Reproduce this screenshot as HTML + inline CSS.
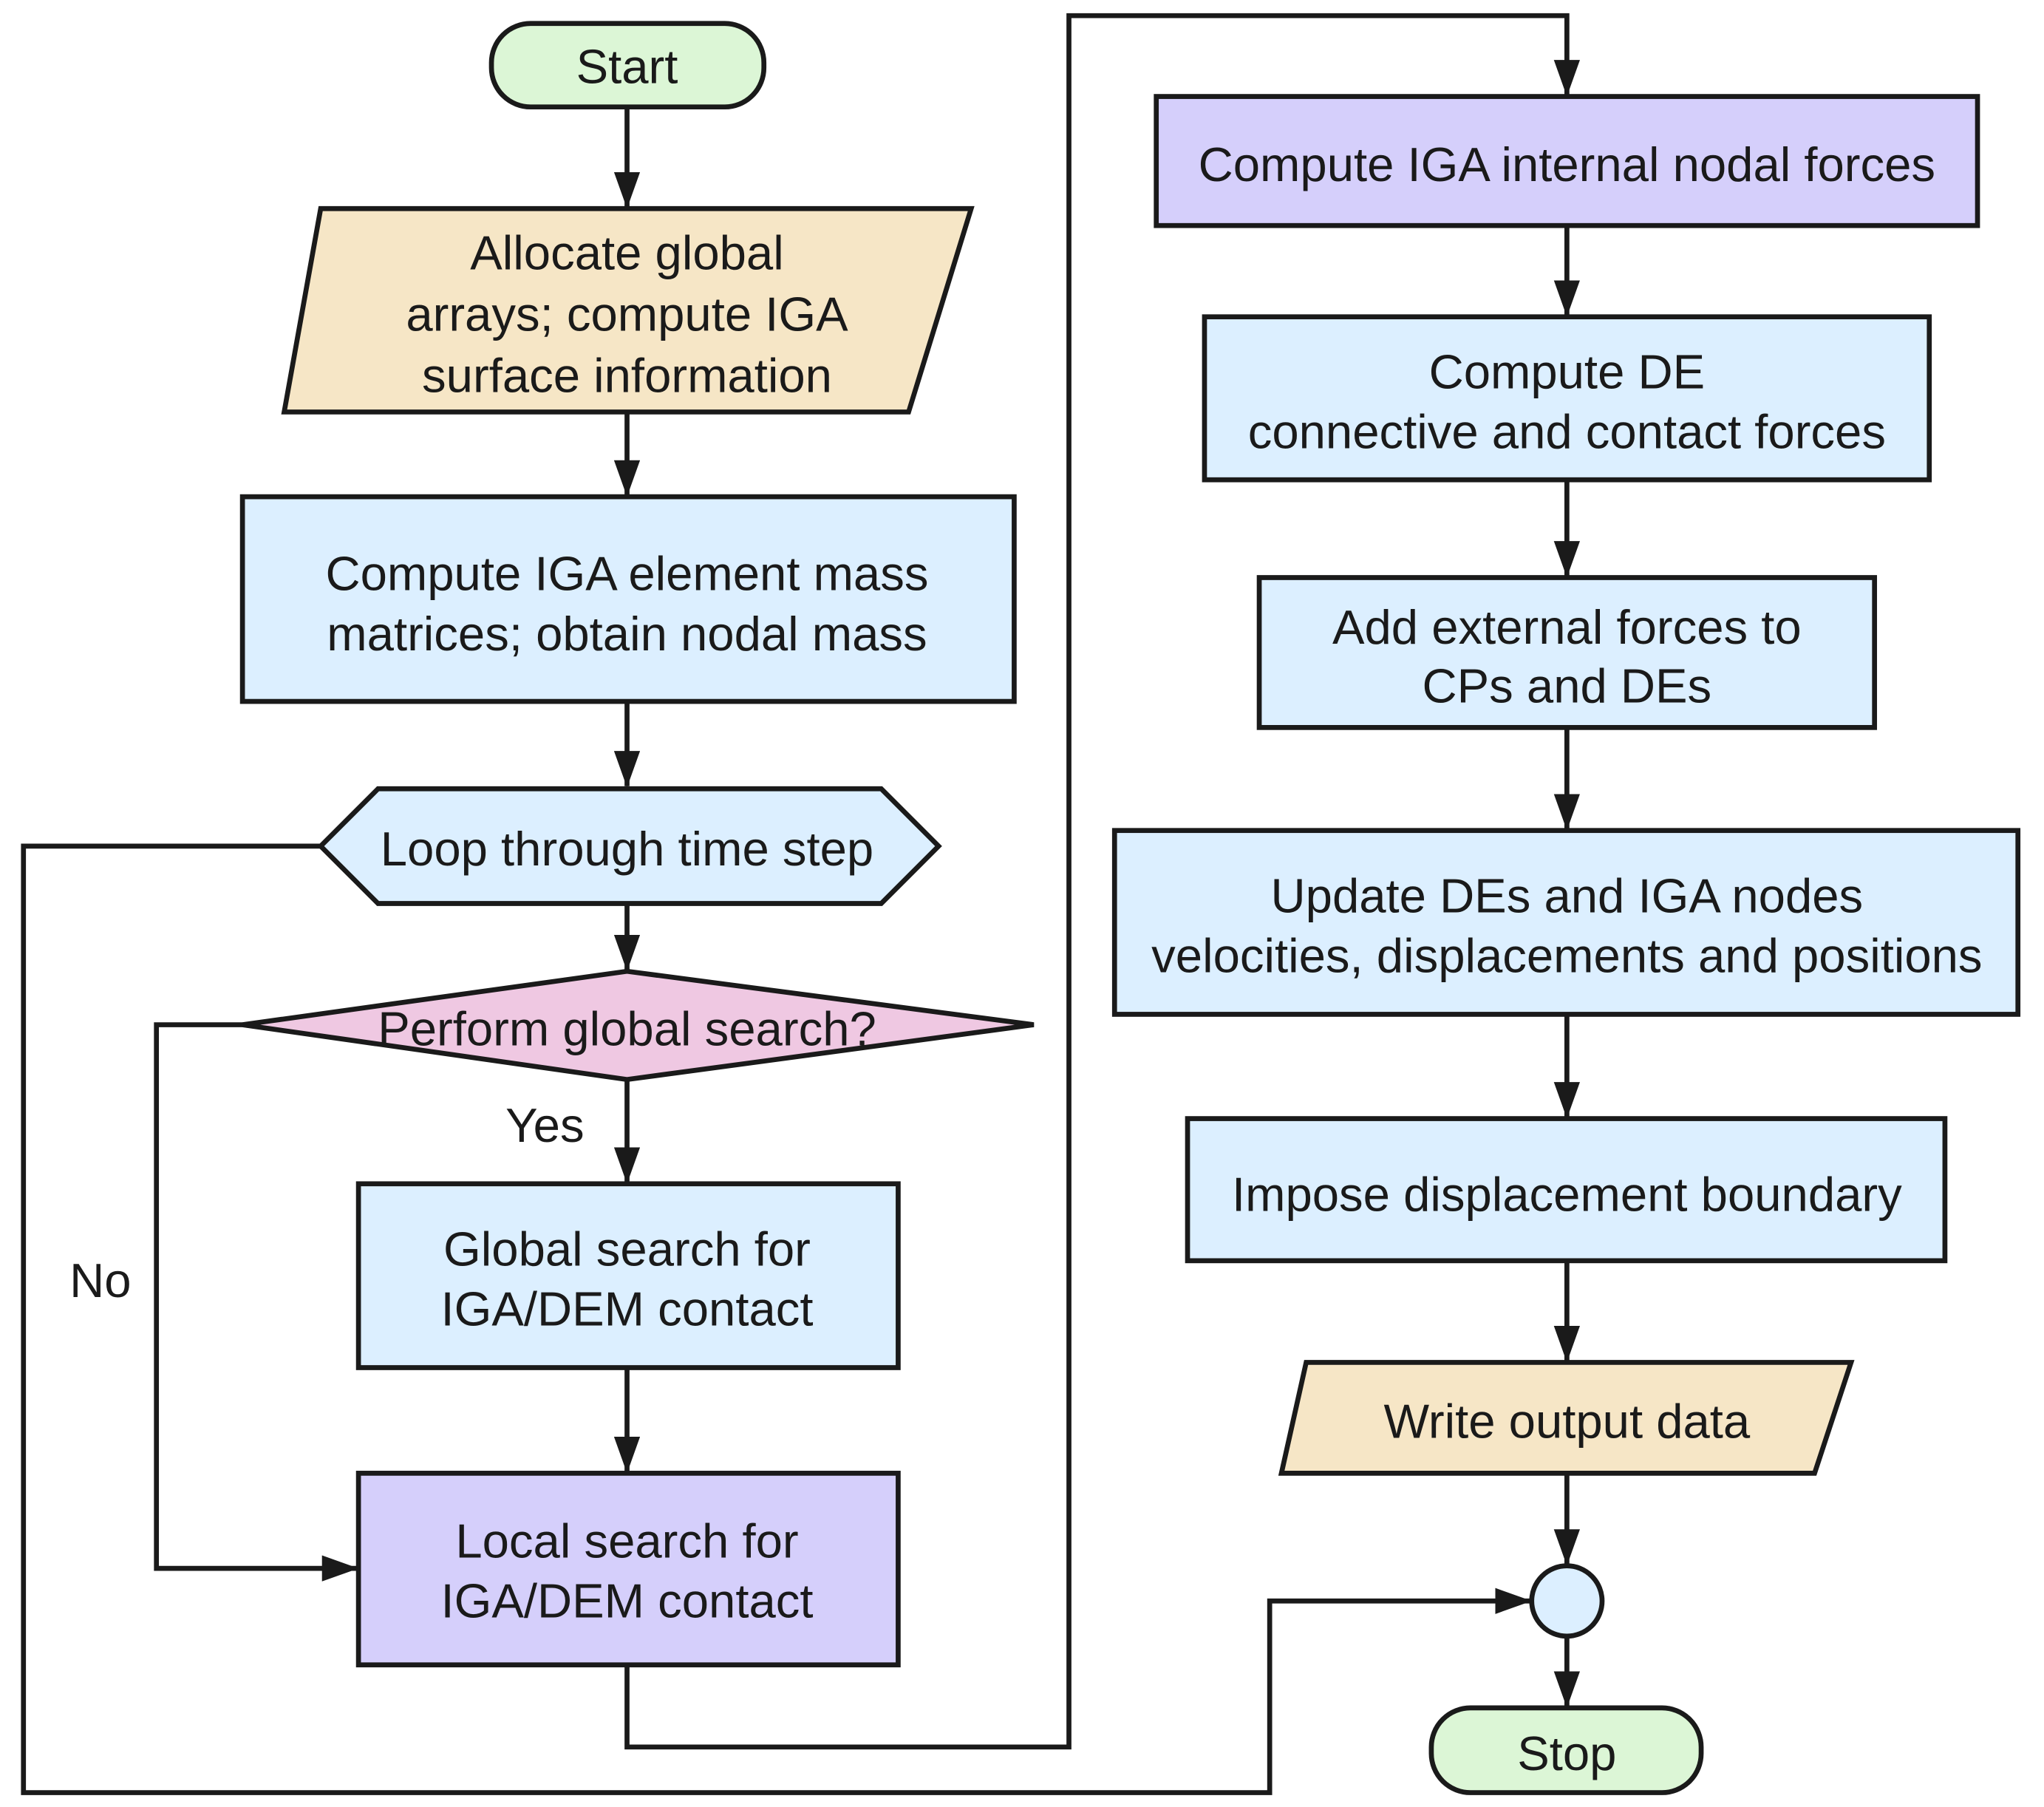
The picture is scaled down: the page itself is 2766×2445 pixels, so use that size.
<!DOCTYPE html>
<html><head><meta charset="utf-8"><style>html,body{margin:0;padding:0;background:#fff}svg{display:block}</style></head>
<body>
<svg width="2766" height="2445" viewBox="0 0 1568 1386" xmlns="http://www.w3.org/2000/svg" font-family="Liberation Sans, sans-serif" font-size="37" fill="#1a1a1a">
<defs><marker id="a" markerWidth="28" markerHeight="20" refX="27" refY="10" orient="auto" markerUnits="userSpaceOnUse" viewBox="0 0 28 20"><path d="M0,0 L28,10 L0,20 Z" fill="#1a1a1a"/></marker></defs>
<g stroke="#1a1a1a" stroke-width="3.8" fill="none">
<line x1="481" y1="82" x2="481" y2="159" marker-end="url(#a)"/>
<line x1="481" y1="316" x2="481" y2="380" marker-end="url(#a)"/>
<line x1="481" y1="538" x2="481" y2="603" marker-end="url(#a)"/>
<line x1="481" y1="693" x2="481" y2="744" marker-end="url(#a)"/>
<line x1="481" y1="828" x2="481" y2="907" marker-end="url(#a)"/>
<line x1="481" y1="1049" x2="481" y2="1129" marker-end="url(#a)"/>
<polyline points="186,786 120,786 120,1203 274,1203" marker-end="url(#a)"/>
<polyline points="246,649 18,649 18,1375 974,1375 974,1228 1174,1228" marker-end="url(#a)"/>
<polyline points="481,1277 481,1340 820,1340 820,12 1202,12 1202,73" marker-end="url(#a)"/>
<line x1="1202" y1="173" x2="1202" y2="242" marker-end="url(#a)"/>
<line x1="1202" y1="368" x2="1202" y2="442" marker-end="url(#a)"/>
<line x1="1202" y1="558" x2="1202" y2="636" marker-end="url(#a)"/>
<line x1="1202" y1="778" x2="1202" y2="857" marker-end="url(#a)"/>
<line x1="1202" y1="967" x2="1202" y2="1044" marker-end="url(#a)"/>
<line x1="1202" y1="1130" x2="1202" y2="1200" marker-end="url(#a)"/>
<line x1="1202" y1="1255" x2="1202" y2="1309" marker-end="url(#a)"/>
</g>
<g stroke="#1a1a1a" stroke-width="3.8">
<rect x="377" y="18" width="209" height="64" rx="30" fill="#dcf6d6"/>
<polygon points="246,160 745,160 697,316 218,316" fill="#f6e6c6"/>
<rect x="186" y="381" width="592" height="157" fill="#dcefff"/>
<polygon points="246,649 290,605 676,605 720,649 676,693 290,693" fill="#dcefff"/>
<polygon points="186,786 481,745 793,786 481,828" fill="#efc8e2"/>
<rect x="275" y="908" width="414" height="141" fill="#dcefff"/>
<rect x="275" y="1130" width="414" height="147" fill="#d5cffb"/>
<rect x="887" y="74" width="630" height="99" fill="#d5cffb"/>
<rect x="924" y="243" width="556" height="125" fill="#dcefff"/>
<rect x="966" y="443" width="472" height="115" fill="#dcefff"/>
<rect x="855" y="637" width="693" height="141" fill="#dcefff"/>
<rect x="911" y="858" width="581" height="109" fill="#dcefff"/>
<polygon points="1002,1045 1420,1045 1392,1130 983,1130" fill="#f6e6c6"/>
<circle cx="1202" cy="1228" r="27" fill="#dcefff"/>
<rect x="1098" y="1310" width="207" height="65" rx="30" fill="#dcf6d6"/>
</g>
<g text-anchor="middle" dominant-baseline="central">
<text x="481" y="51">Start</text>
<text x="481" y="194">Allocate global</text>
<text x="481" y="241">arrays; compute IGA</text>
<text x="481" y="288">surface information</text>
<text x="481" y="440">Compute IGA element mass</text>
<text x="481" y="486">matrices; obtain nodal mass</text>
<text x="481" y="651">Loop through time step</text>
<text x="481" y="789">Perform global search?</text>
<text x="418" y="863">Yes</text>
<text x="77" y="982">No</text>
<text x="481" y="958">Global search for</text>
<text x="481" y="1004">IGA/DEM contact</text>
<text x="481" y="1182">Local search for</text>
<text x="481" y="1228">IGA/DEM contact</text>
<text x="1202" y="126">Compute IGA internal nodal forces</text>
<text x="1202" y="285">Compute DE</text>
<text x="1202" y="331">connective and contact forces</text>
<text x="1202" y="481">Add external forces to</text>
<text x="1202" y="526">CPs and DEs</text>
<text x="1202" y="687">Update DEs and IGA nodes</text>
<text x="1202" y="733">velocities, displacements and positions</text>
<text x="1202" y="916">Impose displacement boundary</text>
<text x="1202" y="1090">Write output data</text>
<text x="1202" y="1345">Stop</text>
</g>
</svg>
</body></html>
